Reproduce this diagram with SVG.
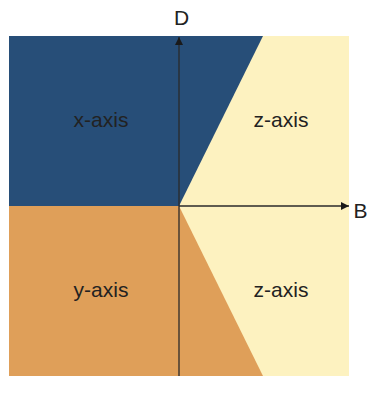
<svg xmlns="http://www.w3.org/2000/svg" width="374" height="395" viewBox="0 0 374 395">
<defs>
<style>
.lbl{font-family:"Liberation Sans",Arial,sans-serif;font-size:21px;fill:#222;text-anchor:middle}
.ax{stroke:#2a2a2a;stroke-width:1.3;fill:none}
</style>
<marker id="ah" viewBox="0 0 10 10" refX="10" refY="5" markerWidth="8" markerHeight="8" markerUnits="userSpaceOnUse" orient="auto">
<path d="M0,0 L10,5 L0,10 Z" fill="#1a1a1a"/>
</marker>
</defs>
<rect width="374" height="395" fill="#ffffff"/>
<g id="region-z">
<rect x="9" y="36" width="340" height="340" fill="#FDF2C0"/>
</g>
<g id="region-x">
<polygon points="9,36 263,36 179,206 9,206" fill="#274E78"/>
</g>
<g id="region-y">
<polygon points="9,206 179,206 263,376 9,376" fill="#DF9F59"/>
</g>
<g id="connectors">
<line class="ax" x1="179" y1="376" x2="179" y2="37" marker-end="url(#ah)"/>
<line class="ax" x1="179" y1="206" x2="349" y2="206" marker-end="url(#ah)"/>
</g>
<g id="labels">
<text class="lbl" x="101" y="127">x-axis</text>
<text class="lbl" x="281" y="127">z-axis</text>
<text class="lbl" x="101" y="297">y-axis</text>
<text class="lbl" x="281" y="297">z-axis</text>
<text class="lbl" x="181.5" y="25">D</text>
<text class="lbl" x="360.5" y="218">B</text>
</g>
</svg>
